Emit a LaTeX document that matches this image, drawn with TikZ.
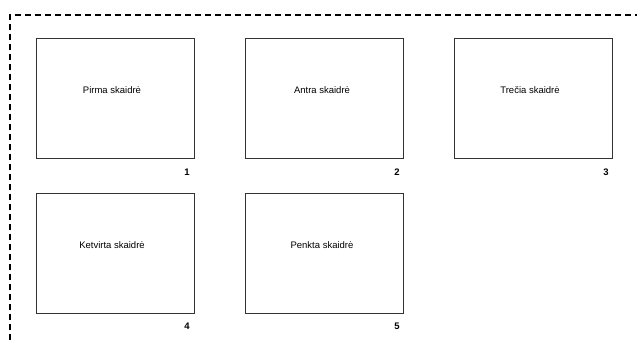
\documentclass[tikz,border=0pt]{standalone}
\usepackage{fontspec}
\setmainfont{Liberation Sans}
\begin{document}
\begin{tikzpicture}[x=1pt,y=-1pt,
  slide/.style={draw=black!80,line width=0.9pt,minimum width=158pt,minimum height=120pt,inner sep=0pt},
  title/.style={font=\fontsize{9.5}{11}\selectfont,inner sep=0pt},
  num/.style={font=\bfseries\fontsize{9.5}{11}\selectfont,inner sep=0pt},
  frame/.style={line width=1.8pt,dash pattern=on 6pt off 4pt}]
\useasboundingbox (0,0) rectangle (637,340);
\fill[white] (0,0) rectangle (637,340);
\coordinate (fa) at (10,340);
\coordinate (fc) at (10,15);
\coordinate (fb) at (637,15);
\draw[frame] (fa) -- (fc) -- (fb);
\node[slide] (s1) at (115,98) {};
\node[slide] (s2) at (324,98) {};
\node[slide] (s3) at (533,98) {};
\node[slide] (s4) at (115,253) {};
\node[slide] (s5) at (324,253) {};
\node[title] (t1) at (112,90) {Pirma skaidrė};
\node[title] (t2) at (322,90) {Antra skaidrė};
\node[title] (t3) at (530,90) {Trečia skaidrė};
\node[title] (t4) at (112,245) {Ketvirta skaidrė};
\node[title] (t5) at (322,245) {Penkta skaidrė};
\node[num] (n1) at (187,172) {1};
\node[num] (n2) at (397,172) {2};
\node[num] (n3) at (606,172) {3};
\node[num] (n4) at (187,326) {4};
\node[num] (n5) at (397,326) {5};
\end{tikzpicture}
\end{document}
